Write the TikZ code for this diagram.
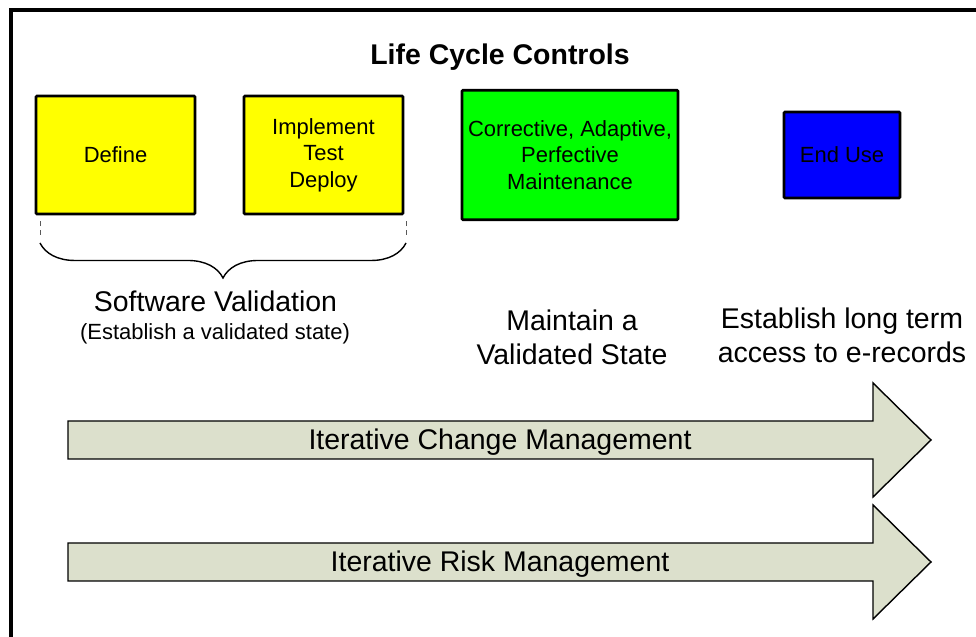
\documentclass[tikz,border=0pt]{standalone}
\usepackage{fontspec}
\setmainfont{Liberation Sans}
\usetikzlibrary{decorations.pathreplacing}
\definecolor{phaseyellow}{RGB}{255,255,0}
\definecolor{phasegreen}{RGB}{0,255,0}
\definecolor{phaseblue}{RGB}{0,0,255}
\definecolor{arrowfill}{RGB}{220,224,204}

\begin{document}
\begin{tikzpicture}[
  phase/.style={draw, line width=1.5pt, rounded corners=0.6pt, align=center,
    inner sep=0pt, font=\fontsize{12.5}{15}\selectfont},
  biglabel/.style={align=center, font=\fontsize{16.2}{19.3}\selectfont},
  bandarrow/.style={draw, line width=0.8pt, fill=arrowfill}
]
\useasboundingbox (0,0) rectangle (19.52,12.74);
\clip (0,0) rectangle (19.52,12.74);

% Frame (runs off to the right and bottom)
\draw[line width=1.8pt] (20,12.54) -- (0.22,12.54) -- (0.22,-0.5);

% Title
\node[font=\fontsize{16.2}{19.3}\selectfont\bfseries] (title) at (10,11.6) {Life Cycle Controls};

% Phase boxes
\node[phase, fill=phaseyellow, minimum width=3.18cm, minimum height=2.36cm] (define) at (2.31,9.64) {Define};
\node[phase, fill=phaseyellow, minimum width=3.18cm, minimum height=2.36cm] (implement) at (6.47,9.64) {Implement\\Test\\Deploy};
\node[phase, fill=phasegreen, minimum width=4.32cm, minimum height=2.59cm] (maintain) at (11.4,9.64) {Corrective, Adaptive,\\Perfective\\Maintenance};
\node[phase, fill=phaseblue, minimum width=2.32cm, minimum height=1.72cm] (enduse) at (16.84,9.64) {End Use};

% Brace under the first two phases
\coordinate (bl) at (0.8,7.88);
\coordinate (br) at (8.12,7.88);
\draw[gray!70!black, densely dashed, line width=0.5pt] (0.8,8.04) -- (0.8,8.32);
\draw[gray!70!black, densely dashed, line width=0.5pt] (8.12,8.04) -- (8.12,8.32);
\draw[line width=0.8pt, decorate, decoration={brace, mirror, amplitude=0.7cm}] (bl) -- (br);

% Captions
\node[biglabel] (swval) at (4.31,6.72) {Software Validation};
\node[font=\fontsize{12.5}{15}\selectfont] (swvalsub) at (4.3,6.06) {(Establish a validated state)};
\node[biglabel] (maintlbl) at (11.44,6.0) {Maintain a\\Validated State};
\node[biglabel] (accesslbl) at (16.84,6.04) {Establish long term\\access to e-records};

% Management arrows
\foreach \y/\txt [count=\i] in {3.94/Iterative Change Management, 1.5/Iterative Risk Management} {
  \draw[bandarrow] (1.36,\y-0.38) -- (17.46,\y-0.38) -- (17.46,\y-1.14) -- (18.62,\y)
    -- (17.46,\y+1.14) -- (17.46,\y+0.38) -- (1.36,\y+0.38) -- cycle;
  \node[biglabel, anchor=base] (band\i) at (10,\y-0.2) {\txt};
}

\end{tikzpicture}
\end{document}
